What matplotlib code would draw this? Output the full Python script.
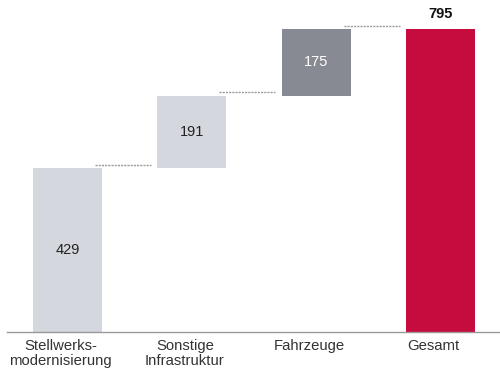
import matplotlib
matplotlib.use("Agg")
import matplotlib.pyplot as plt

categories = ["Stellwerks-\nmodernisierung", "Sonstige\nInfrastruktur", "Fahrzeuge", "Gesamt"]
increments = [429, 191, 175]
total = 795
colors = ["#D4D7DD", "#D4D7DD", "#878A93", "#C60C3E"]
label_colors = ["#222222", "#222222", "#FFFFFF", "#111111"]

plt.rcParams['font.family'] = ['Liberation Sans', 'DejaVu Sans']

fig = plt.figure(figsize=(5.0, 3.71), dpi=100)
ax = fig.add_axes([0.014, 39/371, 0.986, 332/371])

bottoms = []
acc = 0
for v in increments:
    bottoms.append(acc)
    acc += v
values = increments + [total]
bottoms = bottoms + [0]
x = list(range(len(values)))
width = 0.555

ax.bar(x, values, bottom=bottoms, width=width, color=colors, linewidth=0)

# connectors
tops = [b + v for b, v in zip(bottoms, values)]
for i in range(len(values) - 1):
    ax.plot([i + 0.22, i + 0.67], [tops[i] + 9, tops[i] + 9], color="#9A9A9A",
            linewidth=1.0, linestyle=(0, (1.5, 0.8)))

# value labels
for i, (b, v) in enumerate(zip(bottoms, values)):
    if i == len(values) - 1:
        ax.text(i, b + v + 22, str(v), ha="center", va="bottom", fontsize=10.5,
                fontweight="bold", color=label_colors[i])
    else:
        ax.text(i, b + v / 2, str(v), ha="center", va="center", fontsize=10.5,
                color=label_colors[i])

ax.set_xlim(-0.486, 3.478)
ax.set_ylim(0, 871)
ax.set_yticks([])
ax.set_xticks([xi - 0.056 for xi in x])
ax.set_xticklabels(categories, fontsize=10.7, color="#333333", linespacing=1.1)
ax.tick_params(axis="x", length=0, pad=5)
for s in ["top", "right", "left"]:
    ax.spines[s].set_visible(False)
ax.spines["bottom"].set_color("#999999")
ax.spines["bottom"].set_linewidth(1.0)

fig.savefig("out.png", dpi=100)
